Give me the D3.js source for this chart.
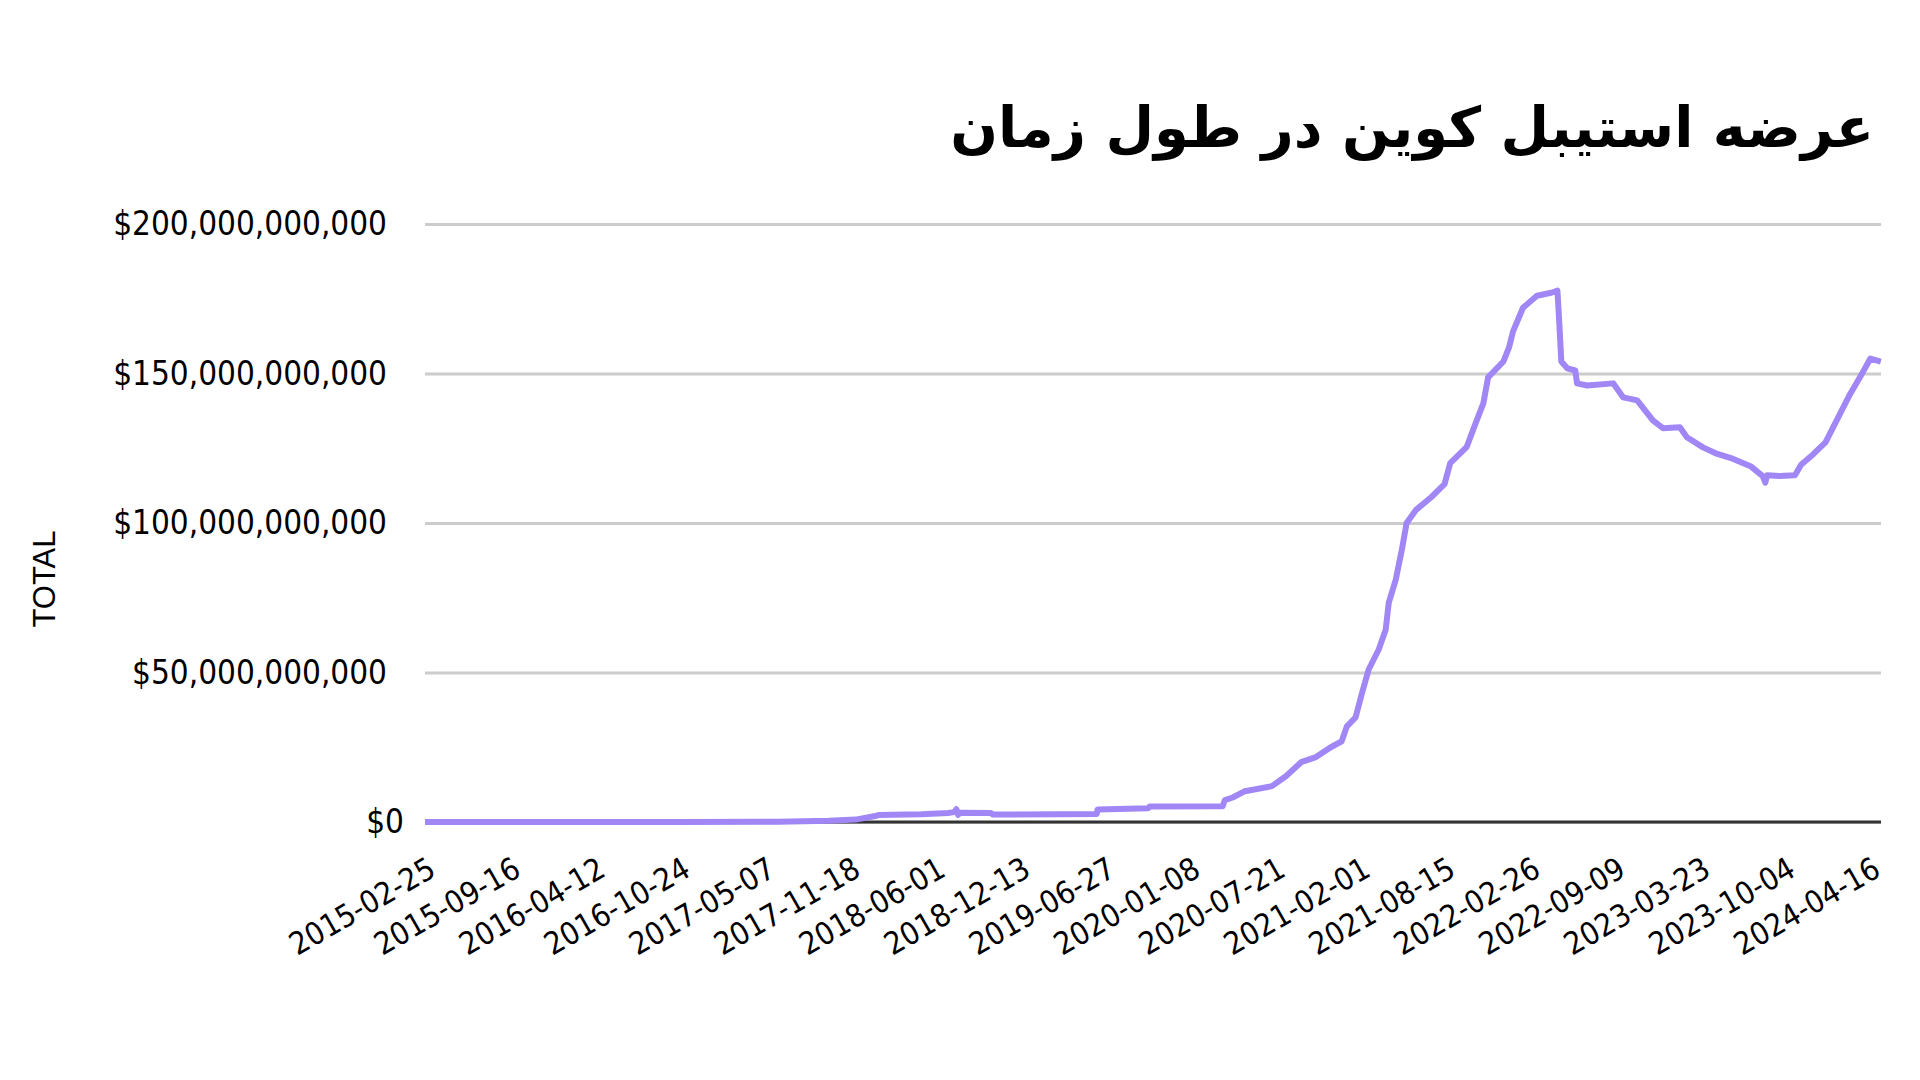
<!DOCTYPE html>
<html>
<head>
<meta charset="utf-8">
<script src="https://cdn.jsdelivr.net/npm/d3@7"></script>
<style>
  body { margin: 0; background: #fff; }
  svg { display: block; }
</style>
</head>
<body>
<div id="chart"></div>
<script>
// stablecoin supply, billions of USD
const dates = [
  "2015-02-25", "2015-09-16", "2016-04-12", "2016-10-24", "2017-05-07", "2017-06-07",
  "2017-09-30", "2017-12-01", "2018-01-15", "2018-01-22", "2018-05-01", "2018-07-01",
  "2018-07-15", "2018-07-20", "2018-07-24", "2018-07-28", "2018-10-07", "2018-10-12",
  "2019-06-08", "2019-06-10", "2019-10-04", "2019-10-08", "2020-03-23", "2020-03-28",
  "2020-04-15", "2020-05-13", "2020-07-14", "2020-08-15", "2020-09-19", "2020-10-23",
  "2020-11-26", "2020-12-21", "2021-01-02", "2021-01-22", "2021-02-06", "2021-02-21",
  "2021-03-16", "2021-04-01", "2021-04-08", "2021-04-24", "2021-05-08", "2021-05-19",
  "2021-06-09", "2021-07-15", "2021-08-14", "2021-08-27", "2021-10-04", "2021-10-26",
  "2021-11-11", "2021-11-22", "2021-12-27", "2022-01-09", "2022-01-18", "2022-02-10",
  "2022-03-14", "2022-04-16", "2022-04-30", "2022-05-04", "2022-05-09", "2022-05-23",
  "2022-06-10", "2022-06-14", "2022-07-07", "2022-09-05", "2022-09-28", "2022-10-30",
  "2022-12-05", "2022-12-28", "2023-02-05", "2023-02-21", "2023-03-30", "2023-04-28",
  "2023-06-06", "2023-07-17", "2023-08-14", "2023-08-20", "2023-08-24", "2023-09-21",
  "2023-10-27", "2023-11-10", "2023-12-08", "2024-01-05", "2024-02-02", "2024-03-01",
  "2024-03-29", "2024-04-17", "2024-05-11"
];
const supply = [
  0, 0.001, 0.007, 0.01, 0.06, 0.1,
  0.4, 0.8, 2.0, 2.3, 2.6, 3.0,
  3.3, 4.3, 2.4, 3.1, 3.0, 2.5,
  2.7, 4.2, 4.6, 5.2, 5.3, 7.3,
  8.2, 10.3, 12, 15.3, 20, 21.7,
  25, 27, 32, 35, 43.3, 51,
  57.7, 64.3, 73.3, 81, 91, 100,
  104.3, 108.7, 113, 120, 125.5, 134,
  140, 148.7, 154, 158.7, 164, 172,
  176, 177, 177.7, 167.7, 154, 151.7,
  151, 146.7, 146, 146.7, 142, 141,
  134.3, 131.7, 132, 128.7, 125.3, 123.3,
  121.5, 119, 115.7, 113.5, 116, 115.7,
  116, 119.5, 123, 127, 135, 143,
  150, 155, 154
];
const tickLabels = [
  "2015-02-25", "2015-09-16", "2016-04-12", "2016-10-24", "2017-05-07", "2017-11-18",
  "2018-06-01", "2018-12-13", "2019-06-27", "2020-01-08", "2020-07-21", "2021-02-01",
  "2021-08-15", "2022-02-26", "2022-09-09", "2023-03-23", "2023-10-04", "2024-04-16"
];
const yTicks = [0, 50, 100, 150, 200];

const title = "عرضه استیبل کوین در طول زمان";

const W = 1920, H = 1080;
const margin = { left: 425, right: 39, top: 224, bottom: 258 };
const w = W - margin.left - margin.right;
const h = H - margin.top - margin.bottom;

const parse = d3.timeParse("%Y-%m-%d");
const data = dates.map((d, i) => ({ date: parse(d), v: supply[i] }));
const tickDates = tickLabels.map(parse);

// labels are evenly spaced categories, the data runs a little past the last one
const step = w / 17.13;
const x = d3.scaleTime()
  .domain(tickDates)
  .range(tickDates.map((d, i) => i * step));

const y = d3.scaleLinear().domain([0, 200]).range([h, 0]);

const svg = d3.select("#chart").append("svg")
  .attr("width", W)
  .attr("height", H);

svg.append("rect").attr("width", W).attr("height", H).attr("fill", "#fff");

svg.append("text")
  .attr("x", 1874)
  .attr("y", 147)
  .attr("text-anchor", "end")
  .style("font-family", "'DejaVu Sans', sans-serif")
  .style("font-weight", "bold")
  .style("font-size", "56px")
  .attr("fill", "#000")
  .text(title);

const g = svg.append("g").attr("transform", `translate(${margin.left},${margin.top})`);

// gridlines + y labels
const yAxis = d3.axisLeft(y)
  .tickValues(yTicks)
  .tickSize(-w)
  .tickPadding(38)
  .tickFormat(d => d3.format("$,")(d * 1e9));

g.append("g").call(yAxis)
  .call(a => a.select(".domain").remove())
  .call(a => a.selectAll(".tick line").attr("stroke", "#cccccc").attr("stroke-width", 3))
  .call(a => a.selectAll(".tick text")
    .style("font-family", "'DejaVu Sans Condensed', 'DejaVu Sans', sans-serif")
    .style("font-size", "33px")
    .attr("fill", "#000"))
  .call(a => a.selectAll(".tick text").filter(d => d === 0).attr("x", -21));

// baseline
g.append("line")
  .attr("x1", 0).attr("x2", w)
  .attr("y1", y(0)).attr("y2", y(0))
  .attr("stroke", "#333")
  .attr("stroke-width", 3);

// x labels
const xAxis = d3.axisBottom(x)
  .tickValues(tickDates)
  .tickSize(0)
  .tickFormat(d3.timeFormat("%Y-%m-%d"));

g.append("g")
  .attr("transform", `translate(0,${h})`)
  .call(xAxis)
  .call(a => a.select(".domain").remove())
  .call(a => a.selectAll(".tick text")
    .attr("x", 0).attr("y", 0).attr("dy", 0)
    .attr("text-anchor", "end")
    .attr("transform", "translate(12,53) rotate(-30)")
    .style("font-family", "'DejaVu Sans Condensed', 'DejaVu Sans', sans-serif")
    .style("font-size", "31px")
    .attr("fill", "#000"));

// line
const line = d3.line()
  .x(d => x(d.date))
  .y(d => y(d.v));

g.append("path")
  .datum(data)
  .attr("fill", "none")
  .attr("stroke", "#a087f5")
  .attr("stroke-width", 6)
  .attr("stroke-linejoin", "round")
  .attr("d", line);

// axis title
svg.append("text")
  .attr("transform", "translate(55,579) rotate(-90)")
  .attr("text-anchor", "middle")
  .style("font-family", "'Liberation Sans', Arial, sans-serif")
  .style("font-size", "31px")
  .attr("fill", "#000")
  .text("TOTAL");
</script>
</body>
</html>
